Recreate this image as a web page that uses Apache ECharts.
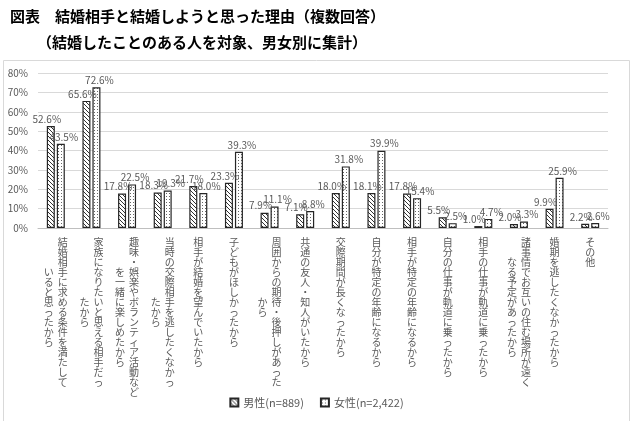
<!DOCTYPE html>
<html>
<head>
<meta charset="utf-8">
<script src="https://cdn.jsdelivr.net/npm/echarts@6/dist/echarts.min.js"></script>
<style>
html,body{margin:0;padding:0;background:#fff;}
#chart{width:633px;height:421px;}
</style>
</head>
<body>
<div id="chart"></div>
<script>
// 項目（縦書き：1列目が右、2列目が左）
var categories = [
	['結婚相手に求める条件を満たして', 'いると思ったから'],
	['家族になりたいと思える相手だっ', 'たから'],
	['趣味・娯楽やボランティア活動など', 'を一緒に楽しめたから'],
	['当時の交際相手を逃したくなかっ', 'たから'],
	['相手が結婚を望んでいたから'],
	['子どもがほしかったから'],
	['周囲からの期待・後押しがあった', 'から'],
	['共通の友人・知人がいたから'],
	['交際期間が長くなったから'],
	['自分が特定の年齢になるから'],
	['相手が特定の年齢になるから'],
	['自分の仕事が軌道に乗ったから'],
	['相手の仕事が軌道に乗ったから'],
	['諸事情でお互いの住む場所が遠く', 'なる予定があったから'],
	['婚期を逃したくなかったから'],
	['その他']
];
var maleValues = [52.6, 65.6, 17.8, 18.3, 21.7, 23.3, 7.9, 7.1, 18.0, 18.1, 17.8, 5.5, 1.0, 2.0, 9.9, 2.2];
var femaleValues = [43.5, 72.6, 22.5, 19.3, 18.0, 39.3, 11.1, 8.8, 31.8, 39.9, 15.4, 2.5, 4.7, 3.3, 25.9, 2.6];
var seriesNames = ['男性(n=889)', '女性(n=2,422)'];
var titleLines = ['図表　結婚相手と結婚しようと思った理由（複数回答）', '（結婚したことのある人を対象、男女別に集計）'];

function hatchPattern(){
	var c = document.createElement('canvas');
	c.width = 4; c.height = 4;
	var g = c.getContext('2d');
	g.fillStyle = '#fff';
	g.fillRect(0, 0, 4, 4);
	g.strokeStyle = '#333';
	g.lineWidth = 1;
	g.beginPath();
	g.moveTo(-1, -1); g.lineTo(5, 5);
	g.moveTo(-1, 3); g.lineTo(1, 5);
	g.moveTo(3, -1); g.lineTo(5, 1);
	g.stroke();
	return c;
}
function dotPattern(){
	var c = document.createElement('canvas');
	c.width = 3; c.height = 3;
	var g = c.getContext('2d');
	g.fillStyle = '#fff';
	g.fillRect(0, 0, 3, 3);
	g.fillStyle = '#666';
	g.fillRect(1, 1, 1, 1);
	return c;
}

// 縦書きラベルを rich text の行で組む
function verticalLabel(cols){
	var maxLen = 0;
	cols.forEach(function(s){ maxLen = Math.max(maxLen, s.length); });
	var rows = [];
	for (var r = 0; r < maxLen; r++) {
		var line = '';
		for (var k = cols.length - 1; k >= 0; k--) {
			var s = cols[k];
			var off = Math.floor((maxLen - s.length) / 2);
			var ch = s.charAt(r - off);
			if (r - off < 0 || !ch) ch = '　';
			line += '{c|' + ch + '}';
		}
		rows.push(line);
	}
	return rows.join('\n');
}

var catKeys = categories.map(function(c, i){ return String(i); });

var chart = echarts.init(document.getElementById('chart'));
var font = '"Noto Sans CJK JP", "Noto Sans", sans-serif';
var option = {
	animation: false,
	textStyle: { fontFamily: font },
	title: [
		{ text: titleLines[0], left: 5, top: 4, textStyle: { fontSize: 15, fontWeight: 'bold', color: '#000', fontFamily: font } },
		{ text: titleLines[1], left: 32, top: 30, textStyle: { fontSize: 15, fontWeight: 'bold', color: '#000', fontFamily: font } }
	],
	graphic: [{
		type: 'rect',
		shape: { x: 3.5, y: 60.5, width: 626, height: 380 },
		style: { fill: 'none', stroke: '#d9d9d9', lineWidth: 1 },
		silent: true
	}],
	legend: {
		data: seriesNames,
		bottom: 8,
		left: 'center',
		icon: 'rect',
		itemWidth: 8,
		itemHeight: 8,
		itemGap: 16,
		textStyle: { color: '#595959', fontSize: 11, fontFamily: font }
	},
	grid: { left: 38, right: 25, top: 73, bottom: 193 },
	xAxis: {
		type: 'category',
		data: catKeys,
		axisLine: { lineStyle: { color: '#bfbfbf' } },
		axisTick: { show: false },
		axisLabel: {
			interval: 0,
			margin: 9,
			verticalAlign: 'top',
			color: '#595959',
			formatter: function(v){ return verticalLabel(categories[+v]); },
			rich: {
				c: { width: 14, align: 'center', fontSize: 10, lineHeight: 10, color: '#595959', fontFamily: font }
			}
		}
	},
	yAxis: {
		type: 'value',
		min: 0,
		max: 80,
		interval: 10,
		axisLine: { show: false },
		axisTick: { show: false },
		splitLine: { lineStyle: { color: '#d9d9d9' } },
		axisLabel: { formatter: '{value}%', color: '#595959', fontSize: 10, margin: 10 }
	},
	series: [
		{
			name: seriesNames[0],
			type: 'bar',
			data: maleValues,
			barWidth: 8,
			barGap: '25%',
			itemStyle: { color: { image: hatchPattern(), repeat: 'repeat' }, borderColor: '#262626', borderWidth: 1.2 },
			label: {
				show: true, position: 'top', distance: 2, offset: [-4, 0],
				color: '#595959', fontSize: 10,
				formatter: function(p){ return p.value.toFixed(1) + '%'; }
			}
		},
		{
			name: seriesNames[1],
			type: 'bar',
			data: femaleValues,
			barWidth: 8,
			itemStyle: { color: { image: dotPattern(), repeat: 'repeat' }, borderColor: '#262626', borderWidth: 1.2 },
			label: {
				show: true, position: 'top', distance: 2, offset: [3, 0],
				color: '#595959', fontSize: 10,
				formatter: function(p){ return p.value.toFixed(1) + '%'; }
			}
		}
	]
};
chart.setOption(option);
</script>
</body>
</html>
